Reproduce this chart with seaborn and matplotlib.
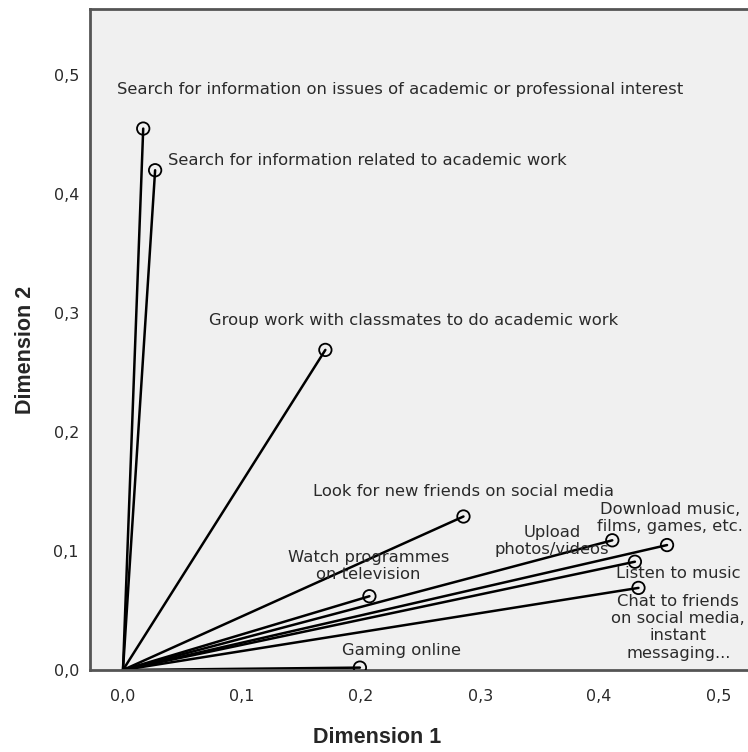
import matplotlib
matplotlib.use("Agg")
import matplotlib.pyplot as plt
import seaborn as sns
import pandas as pd

# ---- data ----
labels = [
    "Search for information on issues of academic or professional interest",
    "Search for information related to academic work",
    "Group work with classmates to do academic work",
    "Look for new friends on social media",
    "Watch programmes\non television",
    "Gaming online",
    "Upload\nphotos/videos",
    "Download music,\nfilms, games, etc.",
    "Listen to music",
    "Chat to friends\non social media,\ninstant\nmessaging...",
]
dim1 = [0.017, 0.027, 0.170, 0.286, 0.207, 0.199, 0.411, 0.457, 0.430, 0.433]
dim2 = [0.455, 0.420, 0.269, 0.129, 0.062, 0.002, 0.109, 0.105, 0.091, 0.069]

tick_vals = [0.0, 0.1, 0.2, 0.3, 0.4, 0.5]
tick_labels = ["0,0", "0,1", "0,2", "0,3", "0,4", "0,5"]

# label placement (data coords, centre of text) and alignment
label_pos = [
    (0.2328, 0.488, "center"),
    (0.0378, 0.4286, "left"),
    (0.244, 0.294, "center"),
    (0.2857, 0.1504, "center"),
    (0.206, 0.0874, "center"),
    (0.2336, 0.016, "center"),
    (0.3605, 0.1084, "center"),
    (0.4595, 0.1277, "center"),
    (0.4665, 0.0807, "center"),
    (0.4665, 0.036, "center"),
]

# ---- build frames ----
pts = pd.DataFrame({"label": labels, "dim1": dim1, "dim2": dim2})
seg_rows = []
for lab, x, y in zip(labels, dim1, dim2):
    seg_rows.append({"label": lab, "step": 0, "dim1": 0.0, "dim2": 0.0})
    seg_rows.append({"label": lab, "step": 1, "dim1": x, "dim2": y})
segs = pd.DataFrame(seg_rows)

sns.set_style("white")
plt.rcParams["font.family"] = ["DejaVu Sans"]

fig = plt.figure(figsize=(7.48, 7.52), dpi=100)
ax = fig.add_axes([90 / 748, 82 / 752, 1 - 90 / 748, (670 - 9) / 752])
ax.set_facecolor("#f0f0f0")

sns.lineplot(data=segs, x="dim1", y="dim2", units="label", estimator=None,
             sort=False, color="black", linewidth=1.8, ax=ax, legend=False)
sns.scatterplot(data=pts, x="dim1", y="dim2", ax=ax, s=80, marker="o",
                facecolor="none", edgecolor="black", linewidth=1.3, zorder=5,
                legend=False)

for lab, (tx, ty, ha) in zip(labels, label_pos):
    ax.text(tx, ty, lab, ha=ha, va="center", fontsize=11.8, color="#2a2a2a",
            linespacing=1.2, zorder=6)

ax.set_xlim(-0.0277, 0.525)
ax.set_ylim(0.0, 0.5555)
ax.set_xticks(tick_vals)
ax.set_xticklabels(tick_labels)
ax.set_yticks(tick_vals)
ax.set_yticklabels(tick_labels)
ax.tick_params(axis="both", direction="out", length=6, width=1.5,
               color="#555555", labelsize=11.5, labelcolor="#2a2a2a")
ax.tick_params(axis="x", pad=8)
ax.tick_params(axis="y", pad=2)

for side in ["left", "bottom", "top"]:
    ax.spines[side].set_color("#555555")
    ax.spines[side].set_linewidth(2)
    ax.spines[side].set_visible(True)
ax.spines["right"].set_visible(False)

ax.set_xlabel("Dimension 1", fontsize=15.5, fontweight="bold",
              family="Liberation Sans")
ax.set_ylabel("Dimension 2", fontsize=15.5, fontweight="bold",
              family="Liberation Sans")
ax.xaxis.set_label_coords(0.436, -0.086)
ax.yaxis.set_label_coords(-0.082, 0.484)

fig.savefig("out.png", dpi=100)
